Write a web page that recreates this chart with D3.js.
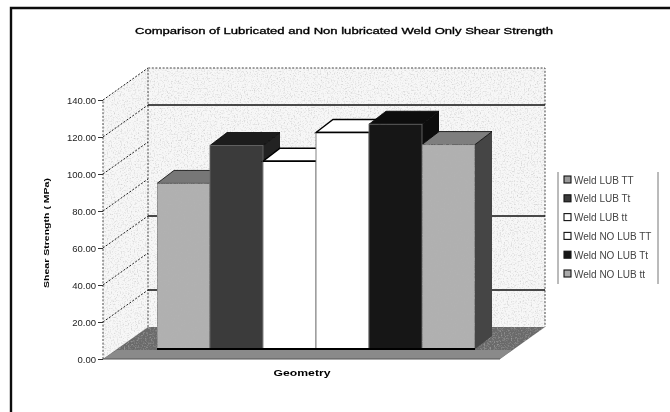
<!DOCTYPE html>
<html><head><meta charset="utf-8">
<style>html,body{margin:0;padding:0;background:#fff}svg{display:block}text{font-family:"Liberation Sans",Arial,sans-serif;fill:#222}</style>
<script src="https://cdn.jsdelivr.net/npm/d3@7"></script></head><body>
<script>
const titleText = "Comparison of Lubricated and Non lubricated Weld Only Shear Strength";
const yTitle = "Shear Strength ( MPa)";
const xTitle = "Geometry";
const series = ["Weld LUB TT","Weld LUB Tt","Weld LUB tt","Weld NO LUB TT","Weld NO LUB Tt","Weld NO LUB tt"];
const values = [89.5,110,101.5,117,121.5,110.5];
const fronts = ["#b0b0b0","#3a3a3a","#ffffff","#ffffff","#181818","#b0b0b0"];
const tops = ["#777777","#1c1c1c","#ffffff","#ffffff","#0c0c0c","#7e7e7e"];
const sides = ["#4a4a4a","#202020","#e8e8e8","#e8e8e8","#101010","#444444"];
const swatches = ["#9a9a9a","#3a3a3a","#ffffff","#ffffff","#181818","#ababab"];
const ticks = [0,20,40,60,80,100,120,140];
const solidGrid = [20,60,120];

const W=670,H=412;
const svg=d3.select("body").append("svg").attr("width",W).attr("height",H);
const defs=svg.append("defs");
defs.append("filter").attr("id","soft").attr("x","0").attr("y","0").attr("width","1").attr("height","1")
  .attr("filterUnits","objectBoundingBox")
  .append("feGaussianBlur").attr("stdDeviation",0.7);
const grain=defs.append("filter").attr("id","grain").attr("x","0").attr("y","0").attr("width","1").attr("height","1");
grain.append("feTurbulence").attr("type","fractalNoise").attr("baseFrequency",0.7).attr("numOctaves",2).attr("seed",4).attr("result","n");
grain.append("feColorMatrix").attr("in","n").attr("type","matrix")
  .attr("values","0 0 0 0 0.45  0 0 0 0 0.45  0 0 0 0 0.45  1.6 0 0 0 -0.78").attr("result","d");
grain.append("feComposite").attr("in","d").attr("in2","SourceAlpha").attr("operator","in").attr("result","c");
const merge=grain.append("feMerge"); merge.append("feMergeNode").attr("in","SourceGraphic"); merge.append("feMergeNode").attr("in","c");

const root=svg.append("g").attr("filter","url(#soft)");
root.append("rect").attr("width",W).attr("height",H).attr("fill","#fff");

// Projection
const y=d3.scaleLinear().domain([0,140]).range([359,100]);
const wallDx=45, wallDy=-32;
const x0=103, xFrontR=500;
const barDx=17, barDy=-13, barBase=-10;
const x=d3.scaleBand().domain(series).range([157,475]);
const poly=p=>p.map(d=>d.join(",")).join(" ");

// frame
root.append("path").attr("d",`M11 412V8H670`).attr("fill","none").attr("stroke","#111").attr("stroke-width",2.4);

// title
root.append("text").attr("x",135).attr("y",34).attr("font-size",8.5).attr("textLength",418)
  .attr("lengthAdjust","spacingAndGlyphs").style("fill","#000").style("stroke","#000").style("stroke-width",0.3).text(titleText);

// walls
const wTop=y(140), wBot=y(0), xBack=x0+wallDx, xBackR=xFrontR+wallDx;
root.append("polygon").attr("points",poly([[x0,wBot],[x0,wTop],[xBack,wTop+wallDy],[xBack,wBot+wallDy]]))
  .attr("fill","#f7f7f7").attr("filter","url(#grain)");
root.append("polygon").attr("points",poly([[xBack,wTop+wallDy],[xBackR,wTop+wallDy],[xBackR,wBot+wallDy],[xBack,wBot+wallDy]]))
  .attr("fill","#f7f7f7").attr("filter","url(#grain)");

// floor
root.append("polygon").attr("points",poly([[x0,wBot],[xFrontR,wBot],[xBackR,wBot+wallDy],[xBack,wBot+wallDy]]))
  .attr("fill","#6a6a6a").attr("filter","url(#grain)");
root.append("polygon").attr("points",poly([[x0+14,wBot+barBase+1],[xFrontR+12,wBot+barBase+1],[xFrontR,wBot],[x0,wBot]])).attr("fill","#8a8a8a");
root.append("line").attr("x1",x0).attr("x2",xFrontR).attr("y1",wBot).attr("y2",wBot).attr("stroke","#555").attr("stroke-width",1.2);

// side gridlines and wall edges
const dash="2 1.6";
root.selectAll(".sg").data(ticks.filter(d=>d>0)).join("line")
  .attr("x1",x0).attr("y1",d=>y(d)).attr("x2",xBack).attr("y2",d=>y(d)+wallDy)
  .attr("stroke","#222").attr("stroke-width",1).attr("stroke-dasharray",dash);
root.append("path").attr("d",`M${x0} ${wBot}V${wTop}M${xBack} ${wBot+wallDy}V${wTop+wallDy}H${xBackR}V${wBot+wallDy}`)
  .attr("fill","none").attr("stroke","#444").attr("stroke-width",1).attr("stroke-dasharray",dash);
// back solid gridlines
root.selectAll(".bg").data(solidGrid).join("line")
  .attr("x1",xBack).attr("x2",xBackR).attr("y1",d=>y(d)+wallDy).attr("y2",d=>y(d)+wallDy)
  .attr("stroke","#111").attr("stroke-width",1.5);

// bars, left to right
const yBar=v=>y(v)+barBase;
const bars=root.selectAll(".bar").data(series.map((s,i)=>({s,i,v:values[i]}))).join("g");
bars.append("polygon").attr("points",d=>{const a=x(d.s)+x.bandwidth(),t=yBar(d.v),b=yBar(0);
  return poly([[a,t],[a+barDx,t+barDy],[a+barDx,b+barDy],[a,b]]);})
  .attr("fill",d=>sides[d.i]).attr("stroke",d=>d.i==2||d.i==3?"#333":"none").attr("stroke-width",.8);
bars.append("polygon").attr("points",d=>{const a=x(d.s),c=a+x.bandwidth(),t=yBar(d.v);
  return poly([[a,t],[a+barDx,t+barDy],[c+barDx,t+barDy],[c,t]]);})
  .attr("fill",d=>tops[d.i]).attr("stroke","#000").attr("stroke-width",d=>d.i==2||d.i==3?1.4:.8);
bars.append("rect").attr("x",d=>x(d.s)).attr("width",x.bandwidth()).attr("y",d=>yBar(d.v)).attr("height",d=>yBar(0)-yBar(d.v))
  .attr("fill",d=>fronts[d.i]).attr("stroke",d=>d.i==2||d.i==3?"#777":"#666").attr("stroke-width",.9)
  .attr("filter",d=>d.i==0||d.i==5?"url(#grain)":null);
bars.filter(d=>d.i==2||d.i==3).append("line").attr("x1",d=>x(d.s)).attr("x2",d=>x(d.s)+x.bandwidth())
  .attr("y1",d=>yBar(d.v)).attr("y2",d=>yBar(d.v)).attr("stroke","#000").attr("stroke-width",1.4);
// front base line
root.append("line").attr("x1",x.range()[0]).attr("x2",x.range()[1]).attr("y1",yBar(0)).attr("y2",yBar(0)).attr("stroke","#000").attr("stroke-width",1.8);

// axis
const axis=d3.axisLeft(y).tickValues(ticks).tickSize(5).tickPadding(2).tickFormat(d3.format(".2f"));
const ga=root.append("g").attr("transform",`translate(${x0},0)`).call(axis);
ga.select(".domain").remove();
ga.selectAll("line").attr("stroke","#333");
ga.selectAll("text").attr("font-size",9.5).attr("font-family",null).style("fill","#222");

// axis titles
root.append("text").attr("transform","translate(49,233) rotate(-90)").attr("text-anchor","middle")
  .attr("font-size",8).attr("font-weight",700).attr("textLength",110).attr("lengthAdjust","spacingAndGlyphs").style("fill","#000").text(yTitle);
root.append("text").attr("x",302).attr("y",376).attr("text-anchor","middle").attr("font-size",8.5).attr("font-weight",700)
  .attr("textLength",57).attr("lengthAdjust","spacingAndGlyphs").style("fill","#000").text(xTitle);

// legend
const ly=d3.scalePoint().domain(series).range([180,274]);
root.append("path").attr("d","M558 172V284M658 172V284").attr("stroke","#777").attr("stroke-width",1).attr("fill","none");
const lg=root.selectAll(".lg").data(series).join("g").attr("transform",d=>`translate(0,${ly(d)})`);
lg.append("rect").attr("x",564).attr("y",-4).attr("width",7).attr("height",7)
  .attr("fill",(d,i)=>swatches[i]).attr("stroke","#111").attr("stroke-width",1.1);
lg.append("text").attr("x",574).attr("y",3.5).attr("font-size",10).style("fill","#444").text(d=>d);
</script></body></html>
